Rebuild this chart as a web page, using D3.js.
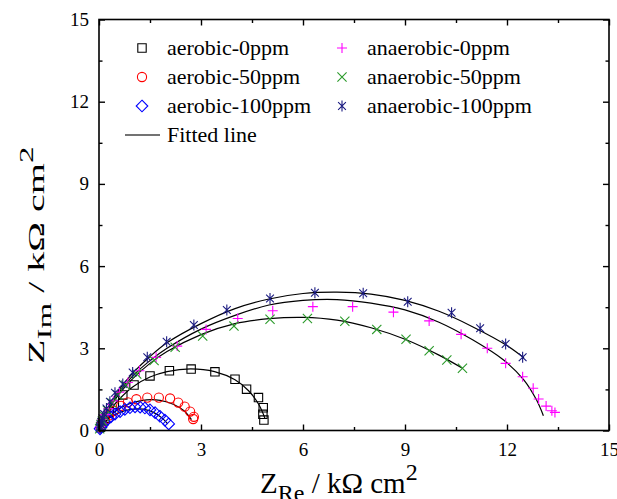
<!DOCTYPE html>
<html><head><meta charset="utf-8">
<script src="https://cdn.jsdelivr.net/npm/d3@7"></script>
<style>body{margin:0;background:#fff} text{font-family:"Liberation Serif","Times New Roman",serif;fill:#000}</style>
</head><body><svg id="c" width="617" height="499"></svg>
<script>
// ---- data (Z_Re, Z_Im in kΩ cm²) ----
const seriesNames = ["aerobic-0ppm","aerobic-50ppm","aerobic-100ppm","anaerobic-0ppm","anaerobic-50ppm","anaerobic-100ppm"];
const aerobic0 = [[0.06,0.15],[0.1,0.28],[0.18,0.45],[0.3,0.68],[0.45,0.95],[0.7,1.3],[1.03,1.66],[1.5,1.99],[2.07,2.18],[2.71,2.24],[3.41,2.14],[4.0,1.87],[4.34,1.51],[4.69,1.2],[4.83,0.83],[4.82,0.59],[4.85,0.38]];
const aerobic50 = [[0.05,0.1],[0.1,0.22],[0.18,0.38],[0.3,0.55],[0.45,0.72],[0.65,0.9],[0.85,1.03],[1.1,1.14],[1.42,1.2],[1.76,1.2],[2.09,1.17],[2.33,1.02],[2.52,0.87],[2.68,0.69],[2.79,0.5],[2.77,0.42]];
const aerobic100 = [[0.03,0.06],[0.06,0.12],[0.1,0.2],[0.17,0.3],[0.25,0.4],[0.35,0.5],[0.47,0.6],[0.62,0.69],[0.76,0.77],[0.91,0.83],[1.06,0.86],[1.21,0.85],[1.35,0.82],[1.5,0.75],[1.65,0.65],[1.79,0.52],[1.94,0.38],[2.05,0.24]];
const anaerobic0 = [[0.03,0.08],[0.04,0.15],[0.07,0.26],[0.11,0.4],[0.18,0.58],[0.28,0.8],[0.42,1.08],[0.6,1.4],[0.85,1.75],[1.19,2.18],[1.68,2.67],[2.3,3.08],[3.15,3.69],[4.08,4.09],[5.11,4.37],[6.29,4.52],[7.46,4.52],[8.66,4.32],[9.71,4.0],[10.65,3.51],[11.42,3.0],[11.96,2.45],[12.46,1.96],[12.77,1.54],[12.93,1.15],[13.15,0.89],[13.32,0.72],[13.41,0.66]];
const anaerobic50 = [[0.02,0.06],[0.04,0.12],[0.06,0.22],[0.1,0.35],[0.16,0.52],[0.25,0.73],[0.38,1.0],[0.55,1.3],[0.78,1.65],[1.11,2.06],[1.62,2.55],[2.24,3.04],[3.05,3.45],[3.97,3.81],[5.03,4.06],[6.13,4.09],[7.23,3.99],[8.17,3.69],[9.03,3.33],[9.71,2.91],[10.23,2.57],[10.69,2.27]];
const anaerobic100 = [[0.03,0.08],[0.04,0.14],[0.05,0.22],[0.07,0.32],[0.1,0.45],[0.15,0.6],[0.22,0.8],[0.32,1.05],[0.47,1.38],[0.7,1.7],[0.99,2.12],[1.42,2.67],[1.99,3.24],[2.79,3.85],[3.76,4.4],[5.03,4.82],[6.35,5.03],[7.77,5.01],[9.08,4.7],[10.37,4.3],[11.21,3.73],[11.96,3.16],[12.46,2.67]];
// fitted lines
const fitAerobic0 = [[0,0],[0.1,0.28],[0.3,0.7],[0.6,1.15],[1,1.6],[1.5,1.95],[2,2.15],[2.7,2.25],[3.4,2.15],[4,1.85],[4.4,1.45],[4.7,0.95],[4.88,0.45]];
const fitAerobic50 = [[0,0],[0.1,0.22],[0.3,0.5],[0.6,0.8],[1,1.02],[1.4,1.12],[1.8,1.1],[2.2,0.95],[2.5,0.72],[2.72,0.4]];
const fitAerobic100 = [[0,0],[0.1,0.2],[0.3,0.45],[0.6,0.66],[1.0,0.78],[1.3,0.78],[1.6,0.66],[1.85,0.46],[2.02,0.24]];
const fitAnaerobic0 = [[0,0],[0.1,0.33],[0.3,0.85],[0.6,1.42],[1,2.0],[1.5,2.55],[2,3.0],[3,3.7],[4,4.2],[5,4.58],[6,4.75],[7,4.78],[8,4.65],[9,4.4],[10,3.95],[11,3.3],[11.9,2.57],[12.5,1.84],[12.87,1.11],[13.07,0.54]];
const fitAnaerobic50 = [[0,0],[0.1,0.3],[0.3,0.8],[0.6,1.35],[1,1.9],[1.5,2.45],[2,2.88],[3,3.5],[4,3.9],[5,4.08],[6,4.13],[7,4.03],[8,3.75],[9,3.33],[10,2.75],[10.69,2.27]];
const fitAnaerobic100 = [[0,0],[0.1,0.35],[0.3,0.9],[0.6,1.5],[1.0,2.1],[1.5,2.7],[2.0,3.2],[3.0,3.9],[4.0,4.45],[5.0,4.8],[6.0,5.0],[7.0,5.05],[8.0,4.98],[9.0,4.75],[10.0,4.35],[11.0,3.78],[12.0,3.1],[12.5,2.65]];
const majorTicks = [0,3,6,9,12,15];
const minorTicks = [1.5,4.5,7.5,10.5,13.5];
const fittedLabel = "Fitted line";

// ---- styling ----
const colors = ["#000000","#ff0000","#0000ff","#ff00ff","#2a9a2a","#1a1a80"];
const shapes = ["square","circle","diamond","plus","x","asterisk"];
const dataSets = [aerobic0,aerobic50,aerobic100,anaerobic0,anaerobic50,anaerobic100];
const fits = [fitAerobic0,fitAerobic50,fitAerobic100,fitAnaerobic0,fitAnaerobic50,fitAnaerobic100];

const svg = d3.select("#c");
svg.append("rect").attr("width",617).attr("height",499).attr("fill","#fff");
const L=99,R=609,T=19.5,B=430.5;
const x = d3.scaleLinear().domain([0,15]).range([L,R]);
const y = d3.scaleLinear().domain([0,15]).range([B,T]);

function symPath(shape){
  switch(shape){
    case "square": {const s=4.2; return `M${-s},${-s}H${s}V${s}H${-s}Z`;}
    case "circle": {const r=4.6; return `M${r},0A${r},${r} 0 1,1 ${-r},0A${r},${r} 0 1,1 ${r},0Z`;}
    case "diamond": {const s=5.8; return `M0,${-s}L${s},0L0,${s}L${-s},0Z`;}
    case "plus": {const s=5; return `M${-s},0H${s}M0,${-s}V${s}`;}
    case "x": {const s=4.6; return `M${-s},${-s}L${s},${s}M${-s},${s}L${s},${-s}`;}
    case "asterisk": {const s=5.5, d=s*0.7071; return `M0,${-s}V${s}M${-d},${-d}L${d},${d}M${-d},${d}L${d},${-d}`;}
  }
}

const g = svg.append("g");
// fitted lines
const line = d3.line().x(d=>x(d[0])).y(d=>y(d[1])).curve(d3.curveCatmullRom.alpha(0.5));
fits.forEach(f=>{
  g.append("path").attr("d",line(f)).attr("fill","none").attr("stroke","#000").attr("stroke-width",1.2);
});
// markers
dataSets.forEach((ds,i)=>{
  g.selectAll(null).data(ds).enter().append("path")
    .attr("transform",d=>`translate(${x(d[0])},${y(d[1])})`)
    .attr("d",symPath(shapes[i]))
    .attr("fill","none").attr("stroke",colors[i]).attr("stroke-width",1.1);
});

// frame
svg.append("rect").attr("x",L).attr("y",T).attr("width",R-L).attr("height",B-T)
  .attr("fill","none").attr("stroke","#000").attr("stroke-width",1.6);

// axes with inward ticks
const axB = d3.axisBottom(x).tickValues(majorTicks).tickSize(-6).tickPadding(12).tickFormat(d3.format("d"));
const axBm = d3.axisBottom(x).tickValues(minorTicks).tickSize(-3.5).tickFormat("");
const axT = d3.axisTop(x).tickValues(majorTicks).tickSize(-6).tickFormat("");
const axTm = d3.axisTop(x).tickValues(minorTicks).tickSize(-3.5).tickFormat("");
const axL = d3.axisLeft(y).tickValues(majorTicks).tickSize(-6).tickPadding(10).tickFormat(d3.format("d"));
const axLm = d3.axisLeft(y).tickValues(minorTicks).tickSize(-3.5).tickFormat("");
const axR = d3.axisRight(y).tickValues(majorTicks).tickSize(-6).tickFormat("");
const axRm = d3.axisRight(y).tickValues(minorTicks).tickSize(-3.5).tickFormat("");
function styl(sel){
  sel.select(".domain").remove();
  sel.selectAll(".tick line").attr("stroke","#000").attr("stroke-width",1.4);
  sel.selectAll(".tick text").attr("font-family","Liberation Serif, Times New Roman, serif").attr("font-size",19).attr("fill","#000");
}
svg.append("g").attr("transform",`translate(0,${B})`).call(axB).call(styl);
svg.append("g").attr("transform",`translate(0,${B})`).call(axBm).call(styl);
svg.append("g").attr("transform",`translate(0,${T})`).call(axT).call(styl);
svg.append("g").attr("transform",`translate(0,${T})`).call(axTm).call(styl);
svg.append("g").attr("transform",`translate(${L},0)`).call(axL).call(styl);
svg.append("g").attr("transform",`translate(${L},0)`).call(axLm).call(styl);
svg.append("g").attr("transform",`translate(${R},0)`).call(axR).call(styl);
svg.append("g").attr("transform",`translate(${R},0)`).call(axRm).call(styl);

// axis titles
function title(sel, sub){
  sel.append("tspan").text("Z");
  sel.append("tspan").attr("font-size",24).attr("dy",8).text(sub);
  sel.append("tspan").attr("dy",-8).text(" / kΩ cm");
  sel.append("tspan").attr("font-size",24).attr("dy",-13).text("2");
}
const xt = svg.append("text").attr("x",260).attr("y",493).attr("font-size",29);
title(xt,"Re");
const yt = svg.append("text").attr("transform","translate(44,364) rotate(-90) scale(1.38,0.82)").attr("font-size",29);
title(yt,"Im");

// legend
const legPos = [[142,48],[142,77],[142,106],[342,48],[342,77],[342,106]];
seriesNames.forEach((n,i)=>{
  const [lx,ly]=legPos[i];
  svg.append("path").attr("transform",`translate(${lx},${ly})`).attr("d",symPath(shapes[i]))
    .attr("fill","none").attr("stroke",colors[i]).attr("stroke-width",1.1);
  svg.append("text").attr("x",lx+25).attr("y",ly+7).attr("font-size",22).text(n);
});
svg.append("line").attr("x1",125).attr("x2",160).attr("y1",135).attr("y2",135).attr("stroke","#444").attr("stroke-width",1.6);
svg.append("text").attr("x",167).attr("y",142).attr("font-size",22).text(fittedLabel);
</script></body></html>
